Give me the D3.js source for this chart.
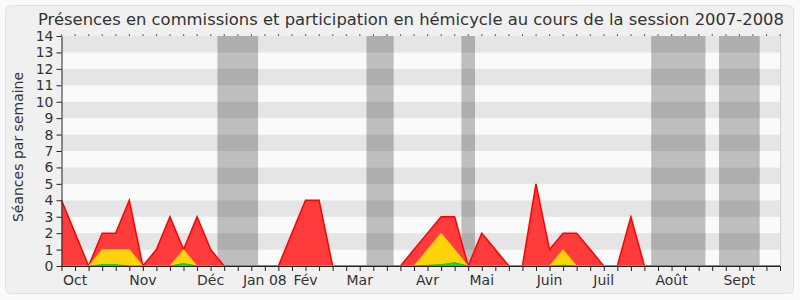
<!DOCTYPE html>
<html>
<head>
<meta charset="utf-8">
<script src="https://cdn.jsdelivr.net/npm/d3@7"></script>
<style>
  body { margin: 0; background: #fafafa; }
  svg { display: block; font-family: "DejaVu Sans", sans-serif; }
</style>
</head>
<body>
<div id="chart"></div>
<script>
// weekly values, session 2007-2008 (week 0 = start of October)
const red    = [4,2,0,2,2,4,0,1,3,1,3,1,0,0,0,0,0,2,4,4,0,0,0,0,0,0,1,2,3,3,0,2,1,0,0,5,1,2,2,1,0,0,3,0,0,0,0,0,0,0,0,0,0,0];
const yellow = [0,0,0,1,1,1,0,0,0,1,0,0,0,0,0,0,0,0,0,0,0,0,0,0,0,0,0,1,2,1,0,0,0,0,0,0,0,1,0,0,0,0,0,0,0,0,0,0,0,0,0,0,0,0];
const green  = [0,0,0,0.08,0.08,0,0,0,0,0.15,0,0,0,0,0,0,0,0,0,0,0,0,0,0,0,0,0,0.04,0.08,0.2,0,0,0,0,0,0,0,0.05,0,0,0,0,0,0,0,0,0,0,0,0,0,0,0,0];

const monthLabels = ["Oct","Nov","Déc","Jan 08","Fév","Mar","Avr","Mai","Juin","Juil","Août","Sept"];
const monthWeeks  = [1,6,11,15,18,22,27,31,36,40,45,50];

// holiday weeks (start, end)
const vacations = [[11.5,14.5],[22.5,24.5],[29.5,30.5],[43.5,47.5],[48.5,51.5]];

const yTicks = d3.range(0, 15);

const width = 800, height = 300;
const margin = {top: 36, right: 20, bottom: 34, left: 61.5};
const innerWidth = width - margin.left - margin.right;
const innerHeight = height - margin.top - margin.bottom;

const svg = d3.select("#chart").append("svg")
  .attr("width", width)
  .attr("height", height);

// outer frame
svg.append("rect")
  .attr("x", 5.5).attr("y", 5.5)
  .attr("width", 788).attr("height", 288)
  .attr("rx", 5)
  .attr("fill", "#f0f0f0")
  .attr("stroke", "#e2e2e2");

svg.append("text")
  .attr("x", 411)
  .attr("y", 25)
  .attr("text-anchor", "middle")
  .attr("font-size", "16.4px")
  .attr("fill", "#333")
  .text("Présences en commissions et participation en hémicycle au cours de la session 2007-2008");

const chart = svg.append("g")
  .attr("transform", `translate(${margin.left},${margin.top})`);

const x = d3.scaleLinear().domain([0, 53]).range([0, innerWidth]);
const y = d3.scaleLinear().domain([0, 14]).range([innerHeight, 0]);

// striped background
chart.selectAll(".stripe")
  .data(d3.range(0, 14))
  .join("rect")
  .attr("x", 0)
  .attr("width", innerWidth)
  .attr("y", d => y(d + 1))
  .attr("height", d => y(d) - y(d + 1))
  .attr("fill", d => d % 2 === 1 ? "#e5e5e5" : "#fafafa");

// right edge shade
chart.append("line")
  .attr("x1", innerWidth + 0.5).attr("x2", innerWidth + 0.5)
  .attr("y1", 0).attr("y2", innerHeight)
  .attr("stroke", "#cfcfcf");

// holidays
chart.selectAll(".vac")
  .data(vacations)
  .join("rect")
  .attr("x", d => x(d[0]))
  .attr("width", d => x(d[1]) - x(d[0]))
  .attr("y", 0)
  .attr("height", innerHeight)
  .attr("fill", "#000")
  .attr("opacity", 0.24);

const area = d3.area()
  .x((d, i) => x(i))
  .y0(y(0))
  .y1(d => y(d));
const line = d3.line()
  .x((d, i) => x(i))
  .y(d => y(d));

chart.append("path").datum(red)
  .attr("d", area).attr("fill", "#ff3c3c");
chart.append("path").datum(red)
  .attr("d", line).attr("fill", "none").attr("stroke", "#ff0000").attr("stroke-width", 1.5);

chart.append("path").datum(yellow)
  .attr("d", area).attr("fill", "#ffd30a");
chart.append("path").datum(yellow)
  .attr("d", line).attr("fill", "none").attr("stroke", "#f2c800").attr("stroke-width", 1);

chart.append("path").datum(green)
  .attr("d", area).attr("fill", "#11dd11");
chart.append("path").datum(green)
  .attr("d", line).attr("fill", "none").attr("stroke", "#00cc00").attr("stroke-width", 1);

// top dots, one per week
chart.selectAll(".dot")
  .data(d3.range(0, 54))
  .join("rect")
  .attr("x", d => x(d) - 0.5)
  .attr("y", -1.5)
  .attr("width", 1.2).attr("height", 1.2)
  .attr("fill", "#222");

// y axis
const yAxis = chart.append("g")
  .call(d3.axisLeft(y).tickValues(yTicks).tickSize(5).tickSizeOuter(0).tickPadding(3));
yAxis.selectAll("text").attr("font-size", "14px").attr("fill", "#333").attr("font-family", "DejaVu Sans");
yAxis.selectAll("line,path").attr("stroke", "#222");

// x axis
const xAxis = chart.append("g")
  .attr("transform", `translate(0,${innerHeight})`)
  .call(d3.axisBottom(x).tickValues(d3.range(0, 54)).tickSize(5).tickSizeOuter(0).tickFormat(""));
xAxis.selectAll("line,path").attr("stroke", "#222");

chart.selectAll(".month")
  .data(monthLabels)
  .join("text")
  .attr("x", (d, i) => x(monthWeeks[i]))
  .attr("y", innerHeight + 19)
  .attr("text-anchor", "middle")
  .attr("font-size", "14px")
  .attr("fill", "#333")
  .text(d => d);

svg.append("text")
  .attr("transform", `translate(23,${margin.top + innerHeight / 2 - 4}) rotate(-90)`)
  .attr("text-anchor", "middle")
  .attr("font-size", "14px")
  .attr("fill", "#333")
  .text("Séances par semaine");
</script>
</body>
</html>
